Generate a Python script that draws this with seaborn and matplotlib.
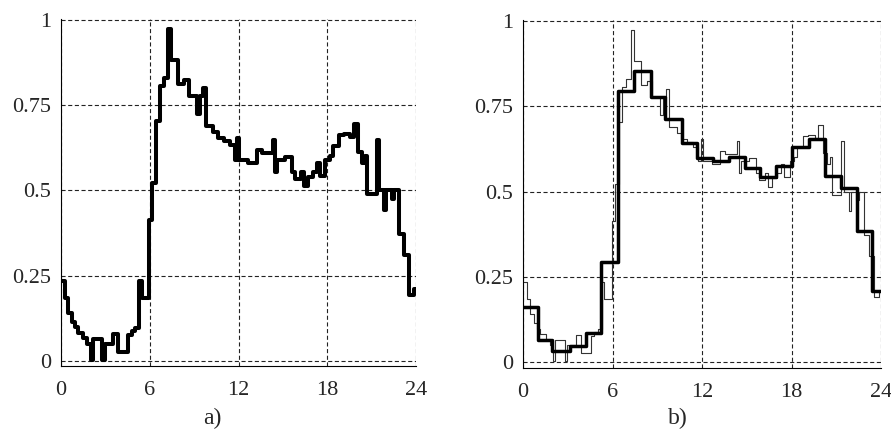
import matplotlib
matplotlib.use("Agg")
import matplotlib.pyplot as plt
import seaborn as sns
import pandas as pd

# ---- data ----
# fine-resolution load profile: step start times (h) and values
t_fine = [0.00, 0.27, 0.50, 0.72, 0.95, 1.17, 1.51, 1.78, 2.00, 2.15, 2.80, 2.95,
          3.54, 3.88, 4.55, 4.78, 5.00, 5.30, 5.45, 5.98, 6.17, 6.42, 6.66, 6.93,
          7.25, 7.42, 7.93, 8.34, 8.64, 9.20, 9.38, 9.58, 9.82, 10.30, 10.60, 11.00,
          11.40, 11.75, 11.90, 12.05, 12.66, 13.23, 13.57, 14.36, 14.50, 14.62, 15.15,
          15.60, 15.85, 16.20, 16.45, 16.70, 17.05, 17.28, 17.50, 17.87, 18.20, 18.40,
          18.77, 19.10, 19.55, 19.80, 20.08, 20.35, 20.55, 20.72, 21.03, 21.35, 21.50,
          21.85, 22.00, 22.35, 22.50, 22.88, 23.17, 23.55, 23.85]
v_fine = [0.235, 0.185, 0.140, 0.115, 0.098, 0.082, 0.066, 0.050, 0.003, 0.065, 0.003, 0.050,
          0.079, 0.027, 0.077, 0.088, 0.097, 0.235, 0.185, 0.413, 0.521, 0.705, 0.807, 0.830,
          0.975, 0.882, 0.812, 0.823, 0.776, 0.725, 0.776, 0.800, 0.690, 0.672, 0.655, 0.645,
          0.632, 0.590, 0.655, 0.590, 0.580, 0.620, 0.610, 0.648, 0.555, 0.590, 0.598,
          0.553, 0.535, 0.555, 0.513, 0.540, 0.555, 0.582, 0.543, 0.589, 0.600, 0.630,
          0.662, 0.666, 0.657, 0.695, 0.614, 0.580, 0.600, 0.490, 0.490, 0.648, 0.500,
          0.443, 0.500, 0.475, 0.500, 0.372, 0.310, 0.192, 0.210]

# coarse (approximately hourly) profile: step start times (h) and values
t_coarse = [0.00, 1.00, 1.95, 3.14, 4.21, 5.22, 6.38, 7.43, 8.55, 9.52, 10.64, 11.64,
            12.76, 13.84, 14.89, 15.90, 16.97, 18.02, 19.14, 20.26, 21.31, 22.39, 23.40]
v_coarse = [0.161, 0.064, 0.032, 0.047, 0.084, 0.294, 0.796, 0.852, 0.776, 0.713, 0.643, 0.599,
            0.589, 0.601, 0.570, 0.542, 0.574, 0.630, 0.653, 0.545, 0.511, 0.383, 0.209]

t_end = 24.0
x_ticks = [0, 6, 12, 18, 24]
y_ticks = [0, 0.25, 0.5, 0.75, 1]
y_ticklabels = ["0", "0.25", "0.5", "0.75", "1"]
panel_labels = ["a)", "b)"]

def steps(t, v):
    return pd.DataFrame({"t": list(t) + [t_end], "v": list(v) + [v[-1]]})

fine = steps(t_fine, v_fine)
coarse = steps(t_coarse, v_coarse)

sns.set_style("white")
plt.rcParams["font.family"] = ["Liberation Serif", "DejaVu Serif"]
plt.rcParams["font.size"] = 16

W, H = 891, 434
fig = plt.figure(figsize=(W / 100, H / 100), dpi=100)

def px_axes(x0, x1, ybot, ytop):
    return fig.add_axes([x0 / W, 1 - ybot / H, (x1 - x0) / W, (ybot - ytop) / H])

ax1 = px_axes(61, 416, 366, 19)
ax2 = px_axes(523, 881, 368, 20)

grid_kw = dict(color="#222222", linewidth=0.8, linestyle=(0, (3.7, 2.3)))

sns.lineplot(data=fine, x="t", y="v", drawstyle="steps-post", estimator=None,
             color="black", linewidth=2.9, ax=ax1)
sns.lineplot(data=fine, x="t", y="v", drawstyle="steps-post", estimator=None,
             color="#333333", linewidth=0.8, ax=ax2)
sns.lineplot(data=coarse, x="t", y="v", drawstyle="steps-post", estimator=None,
             color="black", linewidth=2.5, ax=ax2)

for ax, lab, xc, yb in [(ax1, panel_labels[0], 212, -0.0150), (ax2, panel_labels[1], 678, -0.0176)]:
    ax.set_xlim(0, 24)
    ax.set_ylim(yb, 1.003)
    ax.set_xticks(x_ticks)
    ax.set_xticklabels([str(v) for v in x_ticks])
    ax.set_yticks(y_ticks)
    ax.set_yticklabels(y_ticklabels)
    ax.set_xlabel("")
    ax.set_ylabel("")
    ax.grid(True, **grid_kw)
    ax.set_axisbelow(True)
    ax.tick_params(axis="both", length=0, labelsize=16)
    ax.tick_params(axis="x", pad=11)
    ax.tick_params(axis="y", pad=7)
    for s in ["top", "right"]:
        ax.spines[s].set_visible(False)
    for s in ["left", "bottom"]:
        ax.spines[s].set_color("black")
        ax.spines[s].set_linewidth(0.8)
    fig.text(xc / W, 1 - 418 / H, lab, ha="center", va="center", fontsize=17)

fig.savefig("out.png", dpi=100)
